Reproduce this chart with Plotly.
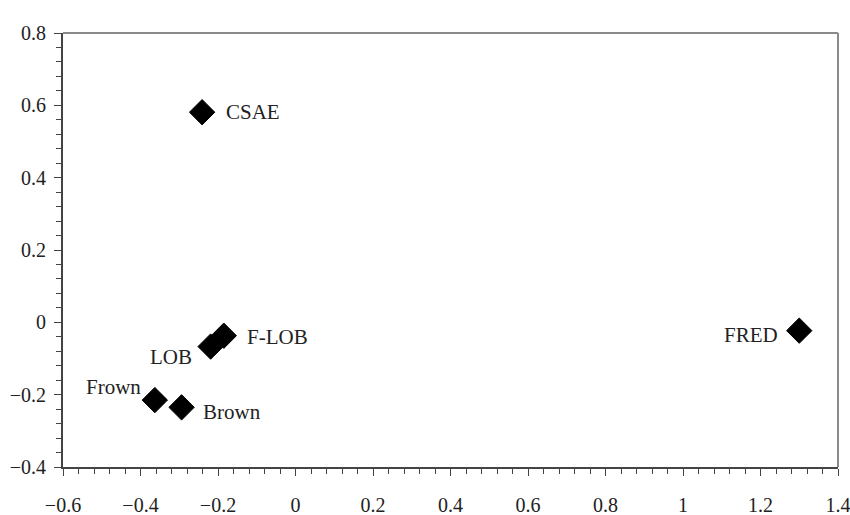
import plotly.graph_objects as go

labels = ["CSAE", "F-LOB", "LOB", "Frown", "Brown", "FRED"]
x_vals = [-0.241, -0.185, -0.219, -0.363, -0.294, 1.300]
y_vals = [0.581, -0.037, -0.067, -0.215, -0.235, -0.023]

# label placement (anchor, pixel shifts)
lab_anchor = ["left", "left", "right", "right", "left", "right"]
lab_xshift = [22, 21, -17, -12, 19, -19]
lab_yshift = [0, -1, -10, 13, -5, -4]

x_ticks = [-0.6, -0.4, -0.2, 0, 0.2, 0.4, 0.6, 0.8, 1, 1.2, 1.4]
x_ticktext = ["\u22120.6", "\u22120.4", "\u22120.2", "0", "0.2", "0.4", "0.6", "0.8", "1", "1.2", "1.4"]
y_ticks = [-0.4, -0.2, 0, 0.2, 0.4, 0.6, 0.8]
y_ticktext = ["\u22120.4", "\u22120.2", "0", "0.2", "0.4", "0.6", "0.8"]

FONT = "Liberation Serif"

fig = go.Figure()
fig.add_trace(go.Scatter(
    x=x_vals, y=y_vals, mode="markers",
    marker=dict(symbol="diamond", size=19.5, color="black",
                line=dict(color="black", width=1)),
    hoverinfo="skip", showlegend=False, cliponaxis=False,
))

for lab, xv, yv, anc, xs, ys in zip(labels, x_vals, y_vals, lab_anchor, lab_xshift, lab_yshift):
    fig.add_annotation(x=xv, y=yv, text=lab, showarrow=False,
                       xanchor=anc, yanchor="middle", xshift=xs, yshift=ys,
                       font=dict(family=FONT, size=21, color="#222"))

# lighter top / right frame
fig.add_shape(type="line", xref="paper", yref="paper", x0=0, y0=1, x1=1, y1=1,
              line=dict(color="#8a8a8a", width=2))
fig.add_shape(type="line", xref="paper", yref="paper", x0=1, y0=0, x1=1, y1=1,
              line=dict(color="#8a8a8a", width=2))

axis_common = dict(
    showgrid=False, zeroline=False, showline=True, linecolor="#444", linewidth=2,
    ticks="outside", ticklen=7, tickwidth=1, tickcolor="#444", automargin=False,
    ticklabeloverflow="allow",
    tickfont=dict(family=FONT, size=20, color="#222"),
)

fig.update_xaxes(range=[-0.6, 1.4], tickmode="array", tickvals=x_ticks, ticktext=x_ticktext,
                 minor=dict(dtick=0.04, ticks="outside", ticklen=5, tickcolor="#444", showgrid=False),
                 ticklabelstandoff=12, **axis_common)
fig.update_yaxes(range=[-0.4, 0.8], tickmode="array", tickvals=y_ticks, ticktext=y_ticktext,
                 minor=dict(dtick=0.04, ticks="outside", ticklen=5, tickcolor="#444", showgrid=False),
                 ticklabelstandoff=4, **axis_common)

fig.update_layout(
    template="none",
    width=850, height=515,
    margin=dict(l=63, r=12, t=33, b=48, pad=0),
    paper_bgcolor="white", plot_bgcolor="white",
    font=dict(family=FONT, color="#222"),
)

fig.write_html("out.html", config={"displayModeBar": False},
               post_script="document.body.style.margin='0';document.body.style.overflow='hidden';")
